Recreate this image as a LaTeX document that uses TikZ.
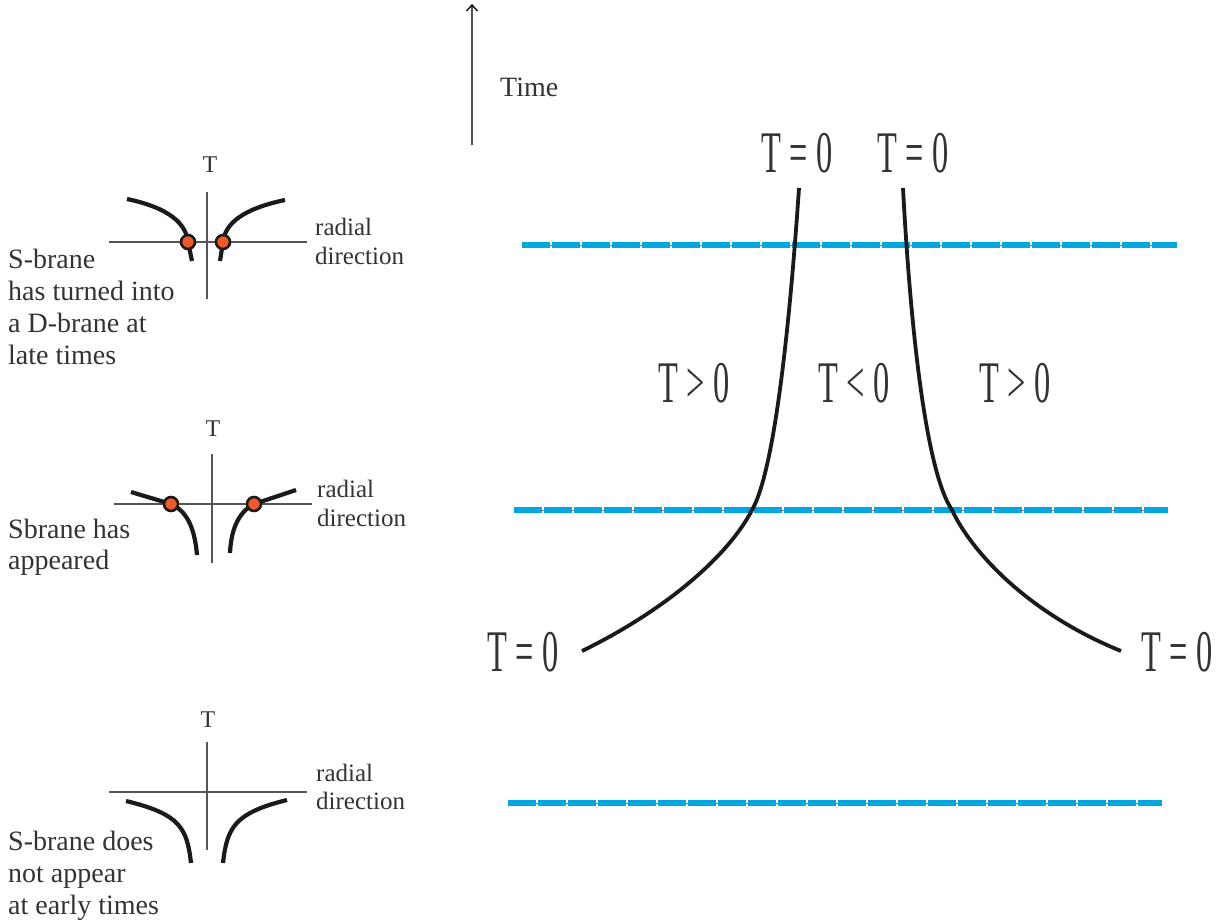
\documentclass[tikz,border=0pt]{standalone}
\usepackage{fontspec}
\setmainfont{Liberation Serif}
\usetikzlibrary{arrows.meta}
\definecolor{txt}{HTML}{333333}
\definecolor{cur}{HTML}{1A1A1A}
\definecolor{bluedash}{HTML}{00A6E0}
\definecolor{orangedot}{HTML}{F05A28}
\definecolor{axisgray}{HTML}{555555}
\tikzset{
  lbl/.style={text=txt, inner sep=0pt, anchor=base west, font=\fontsize{28}{32}\selectfont},
  rad/.style={text=txt, inner sep=0pt, anchor=base west, font=\fontsize{25}{29}\selectfont},
  tlab/.style={text=txt, inner sep=0pt, anchor=base, font=\fontsize{24}{28}\selectfont},
  big/.style={text=txt, inner sep=0pt, anchor=center, xscale=0.55, font=\fontsize{59}{60}\selectfont},
  axisline/.style={draw=axisgray, line width=1.3pt},
  brane/.style={draw=cur, line width=4.2pt},
  mainbrane/.style={draw=cur, line width=3.8pt},
  sdot/.style={circle, fill=orangedot, draw=cur, line width=2.6pt, minimum size=14pt, inner sep=0pt},
  bluel/.style={draw=bluedash, line width=6pt, dash pattern=on 28pt off 2pt},
  orl/.style={draw=orangedot, line width=0.9pt},
}
\begin{document}
\begin{tikzpicture}[x=1pt,y=-1pt]
\useasboundingbox (0,0) rectangle (1222,923);

% Time arrow
\coordinate (tbot) at (472,145);
\coordinate (ttop) at (472,4);
\draw[draw=axisgray, line width=1.3pt, -{Straight Barb[length=6pt,width=11pt,line width=1.3pt,color=black]}] (tbot) -- (ttop);
\node[rad, font=\fontsize{28}{32}\selectfont] (time) at (500,97) {Time};

% ---------- top small diagram ----------
\node[tlab] (T1) at (210,172) {T};
\draw[axisline] (207,192) -- (207,299);
\draw[axisline] (109,242) -- (307,242);
\draw[brane] (127,199) .. controls (170,208) and (186,224) .. (188,242) -- (192,261);
\draw[brane] (285,200) .. controls (242,209) and (225,224) .. (223,242) -- (220,261);
\node[sdot] (d1) at (188,242) {};
\node[sdot] (d2) at (223,242) {};
\node[rad] (r1a) at (315,235) {radial};
\node[rad] (r1b) at (315,264) {direction};
\node[lbl] (l1a) at (8,268) {S-brane};
\node[lbl] (l1b) at (8,300) {has turned into};
\node[lbl] (l1c) at (8,332) {a D-brane at};
\node[lbl] (l1d) at (8,364) {late times};

% ---------- middle small diagram ----------
\node[tlab] (T2) at (213,436) {T};
\draw[axisline] (212,454) -- (212,563);
\draw[axisline] (114,504) -- (312,504);
\draw[brane] (131,492) -- (171,504) .. controls (189,512) and (195,532) .. (197,555);
\draw[brane] (296,490) -- (254,504) .. controls (237,513) and (231,532) .. (230,553);
\node[sdot] (d3) at (171,504) {};
\node[sdot] (d4) at (254,504) {};
\node[rad] (r2a) at (317,497) {radial};
\node[rad] (r2b) at (317,526) {direction};
\node[lbl] (l2a) at (8,538) {Sbrane has};
\node[lbl] (l2b) at (8,569) {appeared};

% ---------- bottom small diagram ----------
\node[tlab] (T3) at (208,727) {T};
\draw[axisline] (207,742) -- (207,850);
\draw[axisline] (109,792) -- (307,792);
\draw[brane] (126,801) .. controls (180,814) and (187,828) .. (191,863);
\draw[brane] (287,800) .. controls (234,813) and (227,828) .. (223,863);
\node[rad] (r3a) at (316,781) {radial};
\node[rad] (r3b) at (316,809) {direction};
\node[lbl] (l3a) at (8,850) {S-brane does};
\node[lbl] (l3b) at (8,882) {not appear};
\node[lbl] (l3c) at (8,914) {at early times};

% ---------- dashed time slices ----------
\draw[orl] (522,245) -- (1177,245);
\draw[bluel] (522,245) -- (1177,245);
\draw[orl] (514,510) -- (1168,510);
\draw[bluel] (514,510) -- (1168,510);
\draw[orl] (508,803) -- (1162,803);
\draw[bluel] (508,803) -- (1162,803);

% ---------- main branes ----------
\draw[mainbrane] (799,188) .. controls (790,320) and (775,470) .. (752,510)
  .. controls (730,553) and (670,608) .. (582,651);
\draw[mainbrane] (903,188) .. controls (910,320) and (925,470) .. (952,510)
  .. controls (970,549) and (1025,612) .. (1121,651);

% ---------- big labels ----------
\node[big] (z1) at (797,153) {T = 0};
\node[big] (z2) at (913,153) {T = 0};
\node[big] (g1) at (694,383) {T > 0};
\node[big] (g2) at (854,383) {T < 0};
\node[big] (g3) at (1015,383) {T > 0};
\node[big] (z3) at (523,652) {T = 0};
\node[big] (z4) at (1177,652) {T = 0};
\end{tikzpicture}
\end{document}
